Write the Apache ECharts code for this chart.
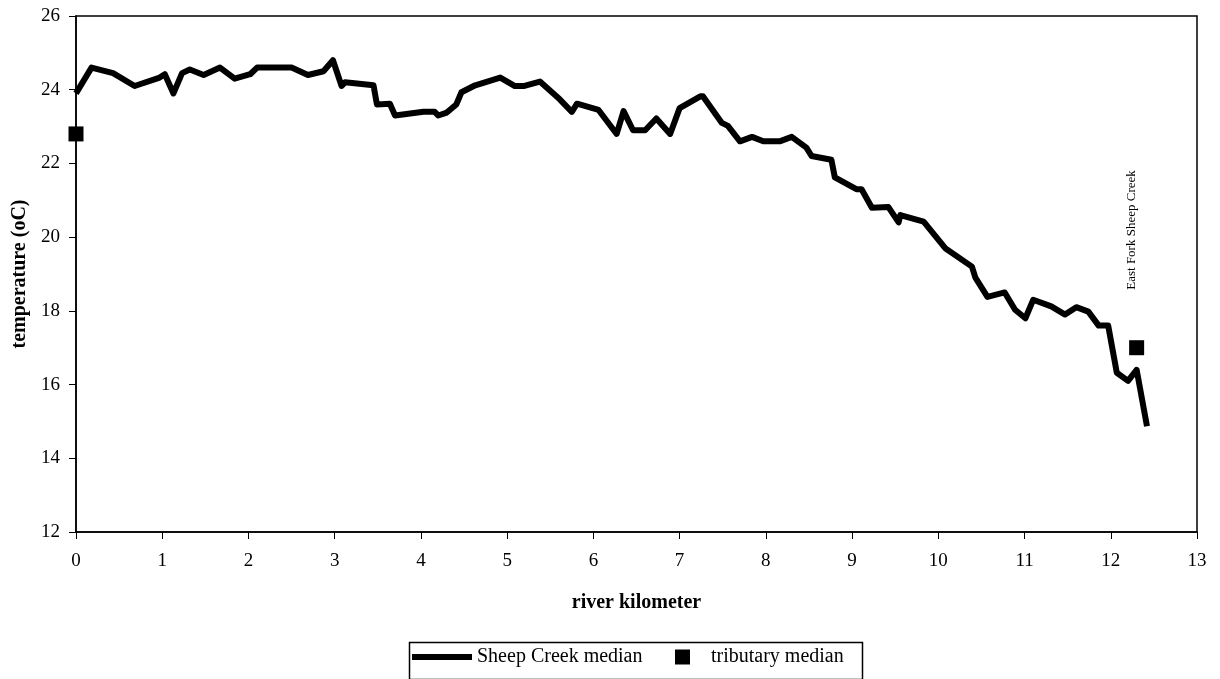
<!DOCTYPE html>
<html>
<head>
<meta charset="utf-8">
<script src="https://cdn.jsdelivr.net/npm/echarts@6/dist/echarts.min.js"></script>
<style>
html,body{margin:0;padding:0;background:#fff;}
#chart{width:1220px;height:679px;}
</style>
</head>
<body>
<div id="chart"></div>
<script>
// river kilometer positions of the Sheep Creek median line
const riverKm = [0.00,0.18,0.43,0.68,0.97,1.03,1.13,1.23,1.32,1.48,1.67,1.84,2.02,2.10,2.50,2.69,2.87,2.98,3.08,3.12,
  3.45,3.49,3.64,3.70,4.03,4.16,4.20,4.30,4.41,4.47,4.63,4.92,5.09,5.19,5.38,5.61,5.75,5.81,6.06,6.27,
  6.35,6.46,6.60,6.73,6.89,7.00,7.24,7.27,7.49,7.56,7.70,7.84,7.97,8.16,8.30,8.47,8.53,8.76,8.80,9.05,
  9.11,9.23,9.42,9.54,9.56,9.83,10.08,10.39,10.43,10.57,10.77,10.89,11.01,11.10,11.31,11.47,11.60,11.74,11.86,11.97,
  12.07,12.20,12.30,12.42];
// median temperature (oC)
const medianTemp = [23.9,24.6,24.45,24.1,24.33,24.42,23.9,24.45,24.55,24.4,24.6,24.3,24.42,24.6,24.6,24.4,24.5,24.8,24.1,24.2,
  24.12,23.6,23.62,23.3,23.4,23.4,23.3,23.38,23.6,23.93,24.12,24.33,24.1,24.1,24.22,23.74,23.4,23.62,23.45,22.8,
  23.42,22.9,22.9,23.22,22.8,23.5,23.82,23.82,23.1,23.02,22.6,22.72,22.6,22.6,22.72,22.43,22.2,22.1,21.62,21.3,
  21.3,20.8,20.82,20.4,20.6,20.42,19.7,19.2,18.9,18.38,18.5,18.03,17.8,18.3,18.12,17.9,18.1,17.98,17.6,17.6,
  16.32,16.1,16.4,14.87];
// tributary medians
const tribKm = [0, 12.3];
const tribTemp = [22.8, 17.0];
const tribLabel = 'East Fork Sheep Creek';

const FONT = '"Liberation Serif", "Times New Roman", serif';

const chart = echarts.init(document.getElementById('chart'), null, {renderer: 'canvas'});
chart.setOption({
  animation: false,
  backgroundColor: '#fff',
  grid: {left: 76, right: 23, top: 16, bottom: 147, show: true, borderColor: '#000', borderWidth: 1.5},
  xAxis: {
    type: 'value', min: 0, max: 13, interval: 1,
    name: 'river kilometer', nameLocation: 'middle', nameGap: 61,
    nameTextStyle: {fontFamily: FONT, fontWeight: 'bold', fontSize: 20, color: '#000'},
    axisLine: {show: true, lineStyle: {color: '#000', width: 1.5}},
    axisTick: {show: true, length: 7, lineStyle: {color: '#000'}},
    axisLabel: {fontFamily: FONT, fontSize: 19, color: '#000', margin: 20},
    splitLine: {show: false}
  },
  yAxis: {
    type: 'value', min: 12, max: 26, interval: 2,
    name: 'temperature (oC)', nameLocation: 'middle', nameGap: 42,
    nameTextStyle: {fontFamily: FONT, fontWeight: 'bold', fontSize: 20, color: '#000'},
    axisLine: {show: true, lineStyle: {color: '#000', width: 1.5}},
    axisTick: {show: true, length: 7, lineStyle: {color: '#000'}},
    axisLabel: {fontFamily: FONT, fontSize: 19, color: '#000', margin: 16},
    splitLine: {show: false}
  },
  legend: [
    {data: [{name: 'Sheep Creek median', icon: 'rect', itemStyle: {color: '#000', opacity: 1}}], left: 412, top: 647, padding: 0,
     itemWidth: 60, itemHeight: 6, itemGap: 0,
     textStyle: {fontFamily: FONT, fontSize: 20, color: '#000'}},
    {data: [{name: 'tributary median', icon: 'rect', itemStyle: {color: '#000', opacity: 1}}], left: 675, top: 647, padding: 0,
     itemWidth: 15, itemHeight: 15, itemGap: 0,
     textStyle: {fontFamily: FONT, fontSize: 20, color: '#000', padding: [0, 0, 0, 16]}}
  ],
  graphic: [
    {type: 'rect', left: 407, top: 640, shape: {width: 453, height: 37},
     style: {fill: 'none', stroke: '#000', lineWidth: 1.5}, silent: true},
    {type: 'text', x: 1132, y: 230, rotation: Math.PI / 2,
     style: {text: tribLabel, fontFamily: FONT, fontSize: 13, fill: '#000', align: 'center', verticalAlign: 'middle'}}
  ],
  series: [
    {name: 'Sheep Creek median', type: 'line', data: riverKm.map((k, i) => [k, medianTemp[i]]),
     symbol: 'none', lineStyle: {color: '#000', width: 6, join: 'round'}, itemStyle: {color: '#000'}, z: 3},
    {name: 'tributary median', type: 'scatter', data: tribKm.map((k, i) => [k, tribTemp[i]]),
     symbol: 'rect', symbolSize: 15, itemStyle: {color: '#000', opacity: 1}, clip: false, z: 4}
  ]
});
</script>
</body>
</html>
